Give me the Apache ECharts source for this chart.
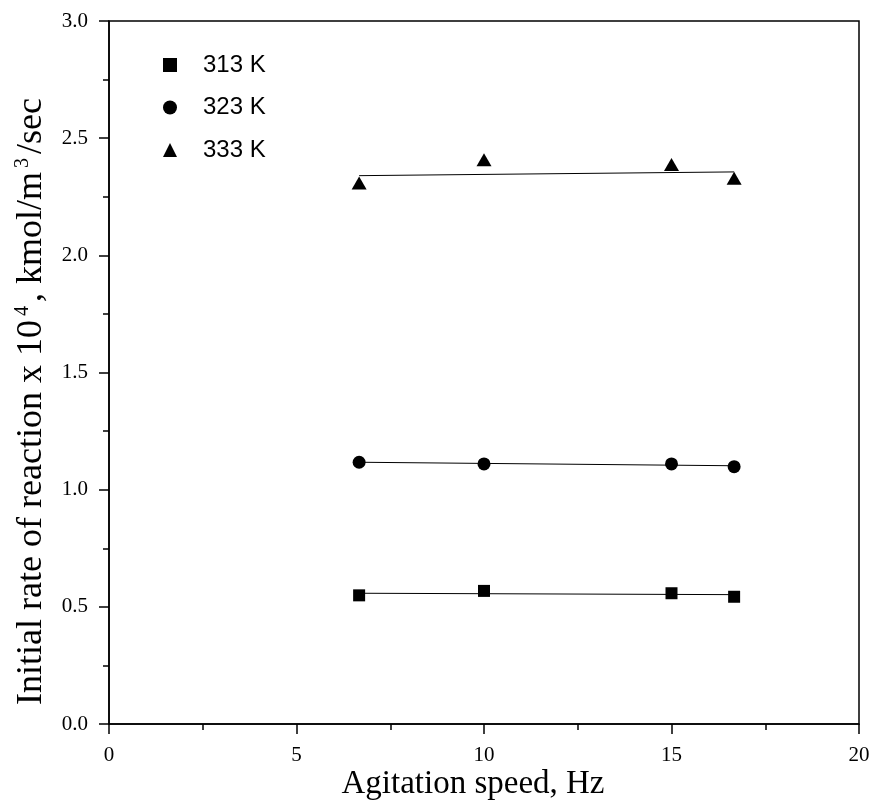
<!DOCTYPE html>
<html>
<head>
<meta charset="utf-8">
<script src="https://cdn.jsdelivr.net/npm/echarts@6/dist/echarts.min.js"></script>
<style>
  html, body { margin: 0; padding: 0; background: #fff; }
  #chart { width: 873px; height: 800px; }
</style>
</head>
<body>
<div id="chart"></div>
<script>
// agitation speed, Hz
const speeds = [6.67, 10, 15, 16.67]

// initial rate x 10^4, kmol/m3/sec
const rate313 = [0.549, 0.568, 0.558, 0.543]
const rate323 = [1.117, 1.110, 1.110, 1.098]
const rate333 = [2.309, 2.408, 2.388, 2.329]

// fitted lines, read at the first and last speed
const fitX = [6.67, 16.67]
const fit313 = [0.558, 0.552]
const fit323 = [1.117, 1.102]
const fit333 = [2.340, 2.356]

const seriesNames = ['313 K', '323 K', '333 K']

const pairs = (xs, ys) => xs.map((x, i) => [x, ys[i]])

const serif = '"Liberation Serif", "Times New Roman", serif'

function scatter(name, values, symbol, size) {
  return {
    name,
    type: 'scatter',
    data: pairs(speeds, values),
    symbol,
    symbolSize: size,
    itemStyle: { color: '#000', opacity: 1 },
    z: 3,
  }
}

function fitLine(values) {
  return {
    type: 'line',
    data: pairs(fitX, values),
    showSymbol: false,
    silent: true,
    lineStyle: { color: '#000', width: 1 },
    z: 2,
  }
}

const chart = echarts.init(document.getElementById('chart'))
chart.setOption({
  backgroundColor: '#fff',
  animation: false,
  grid: {
    left: 109, right: 14, top: 21, bottom: 76,
    outerBoundsMode: 'none',
    show: true, borderColor: '#000', borderWidth: 1.5,
  },
  legend: {
    data: seriesNames,
    orient: 'vertical',
    left: 158, top: 48,
    itemWidth: 14, itemHeight: 14, itemGap: 18.5,
    textStyle: {
      color: '#000', fontSize: 24,
      fontFamily: '"Liberation Sans", Arial, sans-serif',
      padding: [0, 0, 0, 21],
    },
  },
  xAxis: {
    type: 'value',
    min: 0, max: 20, interval: 5,
    name: 'Agitation speed, Hz',
    nameLocation: 'middle',
    nameGap: 44,
    nameMoveOverlap: false,
    nameTextStyle: { color: '#000', fontSize: 33, fontFamily: serif, padding: [0, 22, 0, 0] },
    axisLine: { lineStyle: { color: '#000', width: 1.5 } },
    axisTick: { length: 10, lineStyle: { color: '#000', width: 1.5 } },
    minorTick: { show: true, splitNumber: 2, length: 6, lineStyle: { color: '#000', width: 1.5 } },
    axisLabel: { color: '#000', fontSize: 21, fontFamily: serif, margin: 21 },
    splitLine: { show: false },
  },
  yAxis: {
    type: 'value',
    min: 0, max: 3, interval: 0.5,
    name: '{a|Initial rate of reaction x 10}{s|4}{a|, kmol/m}{s|3}{a|/sec}',
    nameLocation: 'middle',
    nameGap: 58,
    nameMoveOverlap: false,
    nameTextStyle: {
      color: '#000',
      padding: [0, 58, 0, 0],
      rich: {
        a: { fontSize: 36, fontFamily: serif, color: '#000', lineHeight: 38 },
        s: { fontSize: 20, fontFamily: serif, color: '#000', lineHeight: 22, verticalAlign: 'top', padding: [0, 4, 0, 4] },
      },
    },
    axisLine: { lineStyle: { color: '#000', width: 1.5 } },
    axisTick: { length: 10, lineStyle: { color: '#000', width: 1.5 } },
    minorTick: { show: true, splitNumber: 2, length: 6, lineStyle: { color: '#000', width: 1.5 } },
    axisLabel: {
      color: '#000', fontSize: 21, fontFamily: serif, margin: 21,
      formatter: v => v.toFixed(1),
    },
    splitLine: { show: false },
  },
  series: [
    scatter(seriesNames[0], rate313, 'rect', 12),
    scatter(seriesNames[1], rate323, 'circle', 13),
    scatter(seriesNames[2], rate333, 'triangle', [15, 13]),
    fitLine(fit313),
    fitLine(fit323),
    fitLine(fit333),
  ],
})
</script>
</body>
</html>
